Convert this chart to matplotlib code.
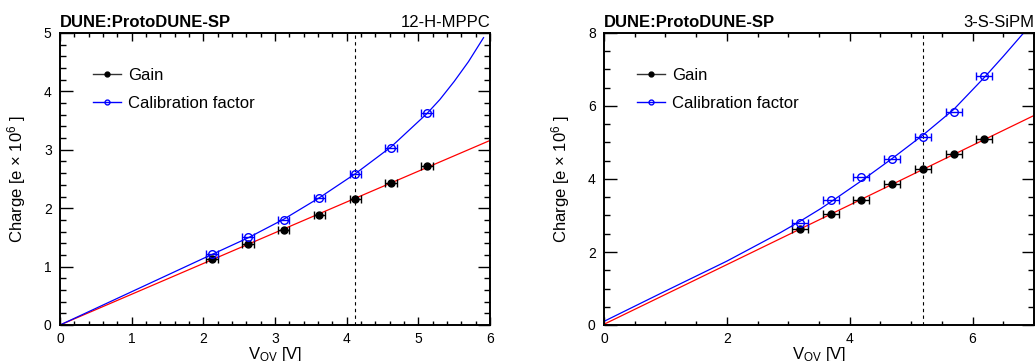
import numpy as np
import matplotlib
matplotlib.use('Agg')
from matplotlib import pyplot as plt
from matplotlib.lines import Line2D
from matplotlib.ticker import MultipleLocator

plt.rcParams['font.family'] = ['Liberation Sans', 'DejaVu Sans']
plt.rcParams['mathtext.fontset'] = 'custom'
plt.rcParams['mathtext.rm'] = 'Liberation Sans'
plt.rcParams['mathtext.default'] = 'regular'

# ---- left panel: 12-H-MPPC ----
vov_L = [2.12, 2.62, 3.12, 3.62, 4.12, 4.62, 5.12]
gain_L = [1.13, 1.38, 1.63, 1.89, 2.16, 2.44, 2.73]
calib_L = [1.21, 1.50, 1.80, 2.18, 2.59, 3.03, 3.63]
xerr_L = 0.08
vop_L = 4.12
fit_gain_x_L = [0, 3, 6]
fit_gain_y_L = [0, 1.58, 3.16]
fit_cal_x_L = [0, 1, 2, 2.62, 3.12, 3.62, 4.12, 4.62, 5.12, 5.3, 5.5, 5.7, 5.91]
fit_cal_y_L = [0, 0.57, 1.14, 1.49, 1.81, 2.18, 2.59, 3.05, 3.62, 3.86, 4.17, 4.51, 4.92]

# ---- right panel: 3-S-SiPM ----
vov_R = [3.19, 3.69, 4.19, 4.69, 5.19, 5.69, 6.19]
gain_R = [2.62, 3.04, 3.43, 3.86, 4.27, 4.68, 5.10]
calib_R = [2.80, 3.42, 4.06, 4.55, 5.16, 5.84, 6.82]
xerr_R = 0.13
vop_R = 5.2
fit_gain_x_R = [0, 3.5, 7]
fit_gain_y_R = [0.02, 2.88, 5.74]
fit_cal_x_R = [0, 1, 2, 2.87, 3.19, 3.52, 3.69, 4.19, 4.69, 5.19, 5.69, 6.19, 6.5, 6.83]
fit_cal_y_R = [0.10, 0.93, 1.75, 2.53, 2.84, 3.18, 3.37, 3.95, 4.56, 5.20, 5.90, 6.78, 7.36, 8.0]

panels = [
    dict(name='12-H-MPPC', x=vov_L, g=gain_L, c=calib_L, xerr=xerr_L, vop=vop_L,
         fgx=fit_gain_x_L, fgy=fit_gain_y_L, fcx=fit_cal_x_L, fcy=fit_cal_y_L,
         xlim=6, ylim=5, xmaj=1, xmin=0.2, ymaj=1, ymin=0.2, left=60),
    dict(name='3-S-SiPM', x=vov_R, g=gain_R, c=calib_R, xerr=xerr_R, vop=vop_R,
         fgx=fit_gain_x_R, fgy=fit_gain_y_R, fcx=fit_cal_x_R, fcy=fit_cal_y_R,
         xlim=7, ylim=8, xmaj=2, xmin=0.5, ymaj=2, ymin=0.5, left=604),
]

W, H = 1035, 361
fig = plt.figure(figsize=(W / 100, H / 100), dpi=100)

for p in panels:
    ax = fig.add_axes([p['left'] / W, 36 / H, 430 / W, 292 / H])
    ax.plot(p['fgx'], p['fgy'], color='red', lw=0.9, zorder=2)
    ax.plot(p['fcx'], p['fcy'], color='blue', lw=0.9, zorder=2)
    ax.axvline(p['vop'], color='black', lw=0.8, ls=(0, (3, 3)), zorder=1)
    ax.errorbar(p['x'], p['g'], xerr=p['xerr'], fmt='o', color='black', ms=5,
                elinewidth=1, capsize=3, capthick=1, zorder=3)
    ax.errorbar(p['x'], p['c'], xerr=p['xerr'], fmt='o', color='blue', mfc='none', ms=5.5,
                mew=1, elinewidth=1, capsize=3, capthick=1, zorder=3)

    ax.set_xlim(0, p['xlim'])
    ax.set_ylim(0, p['ylim'])
    ax.xaxis.set_major_locator(MultipleLocator(p['xmaj']))
    ax.xaxis.set_minor_locator(MultipleLocator(p['xmin']))
    ax.yaxis.set_major_locator(MultipleLocator(p['ymaj']))
    ax.yaxis.set_minor_locator(MultipleLocator(p['ymin']))
    ax.tick_params(axis='both', which='both', direction='in', top=True, right=True,
                   labelsize=10, width=1, color='black')
    ax.tick_params(axis='x', which='major', length=6, pad=5)
    ax.tick_params(axis='x', which='minor', length=3)
    ax.tick_params(axis='y', which='major', length=9, pad=6)
    ax.tick_params(axis='y', which='minor', length=4.5)
    for s in ax.spines.values():
        s.set_linewidth(1.4)

    ax.set_xlabel('V$_{OV}$ [V]', fontsize=12)
    ax.xaxis.set_label_coords(0.5, -0.068)
    ax.set_ylabel('Charge [e × 10$^{6}$ ]', fontsize=12)
    ax.yaxis.set_label_coords(-0.075, 0.5)

    ax.text(0, 1.02, 'DUNE:ProtoDUNE-SP', transform=ax.transAxes, fontsize=12,
            fontweight='bold', ha='left', va='baseline')
    ax.text(1, 1.02, p['name'], transform=ax.transAxes, fontsize=12,
            ha='right', va='baseline')

    handles = [
        Line2D([], [], color='#333333', lw=1, marker='o', ms=3.5, mfc='black', mec='black'),
        Line2D([], [], color='blue', lw=1, marker='o', ms=3.5, mfc='none', mec='blue'),
    ]
    ax.legend(handles, ['Gain', 'Calibration factor'], loc='upper left',
              bbox_to_anchor=(0.077, 0.88), frameon=False, fontsize=12,
              borderpad=0, borderaxespad=0, handlelength=1.7, handletextpad=0.4,
              labelspacing=0.78)

fig.savefig('out.png', dpi=100)
